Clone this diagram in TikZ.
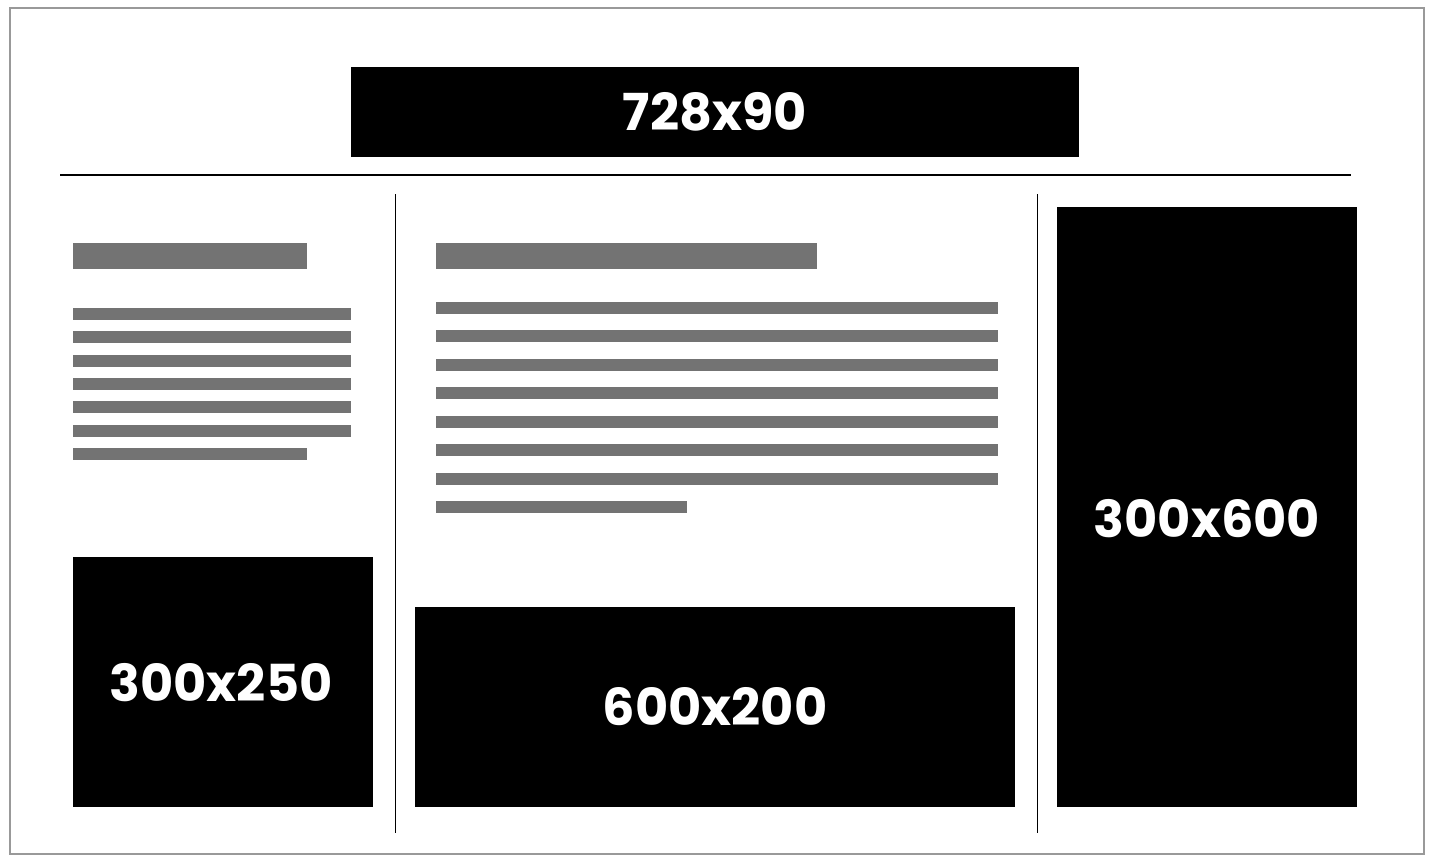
\documentclass[tikz,border=0pt]{standalone}
\usepackage{fontspec}
\setmainfont{Poppins}
\newfontfamily\labelfont[BoldFont={* Bold}]{Poppins}
\definecolor{framegray}{HTML}{999999}
\definecolor{bargray}{HTML}{737373}
\begin{document}
\begin{tikzpicture}[x=1pt,y=-1pt,
  adbox/.style={fill=black,draw=none,inner sep=0pt,anchor=north west},
  adlabel/.style={text=white,font=\labelfont\bfseries\fontsize{51}{51}\selectfont,inner sep=0pt},
  bar/.style={fill=bargray}]
\useasboundingbox (0,0) rectangle (1431,859);
\fill[white] (0,0) rectangle (1431,859);
% outer frame
\draw[framegray,line width=2pt] (9.5,8) rectangle (1423.5,853.5);
% separators
\draw[black,line width=2pt] (60,175) -- (1351,175);
\draw[black,line width=1.2pt] (395.5,194) -- (395.5,833);
\draw[black,line width=1.2pt] (1037.5,194) -- (1037.5,833);
% ad boxes
\node[adbox,minimum width=728pt,minimum height=90pt] (lead) at (351,67) {};
\node[adlabel] (leadt) at (715,112) {728x90};
\node[adbox,minimum width=300pt,minimum height=249.5pt] (rect) at (73,557) {};
\node[adlabel] (rectt) at (221,683) {300x250};
\node[adbox,minimum width=600pt,minimum height=199.5pt] (wide) at (415,607) {};
\node[adlabel] (widet) at (715,707) {600x200};
\node[adbox,minimum width=300pt,minimum height=599.5pt] (tall) at (1057,207) {};
\node[adlabel] (tallt) at (1207,519) {300x600};
% left column text bars
\fill[bar] (73,243) rectangle (307,269);
\foreach \y in {308,331,355,378,401,425} \fill[bar] (73,\y) rectangle (351,\y+12);
\fill[bar] (73,448) rectangle (307,460);
% middle column text bars
\fill[bar] (436,243) rectangle (817,269);
\foreach \y in {302,330,359,387,416,444,473} \fill[bar] (436,\y) rectangle (998,\y+12);
\fill[bar] (436,501) rectangle (687,513);
\end{tikzpicture}
\end{document}
